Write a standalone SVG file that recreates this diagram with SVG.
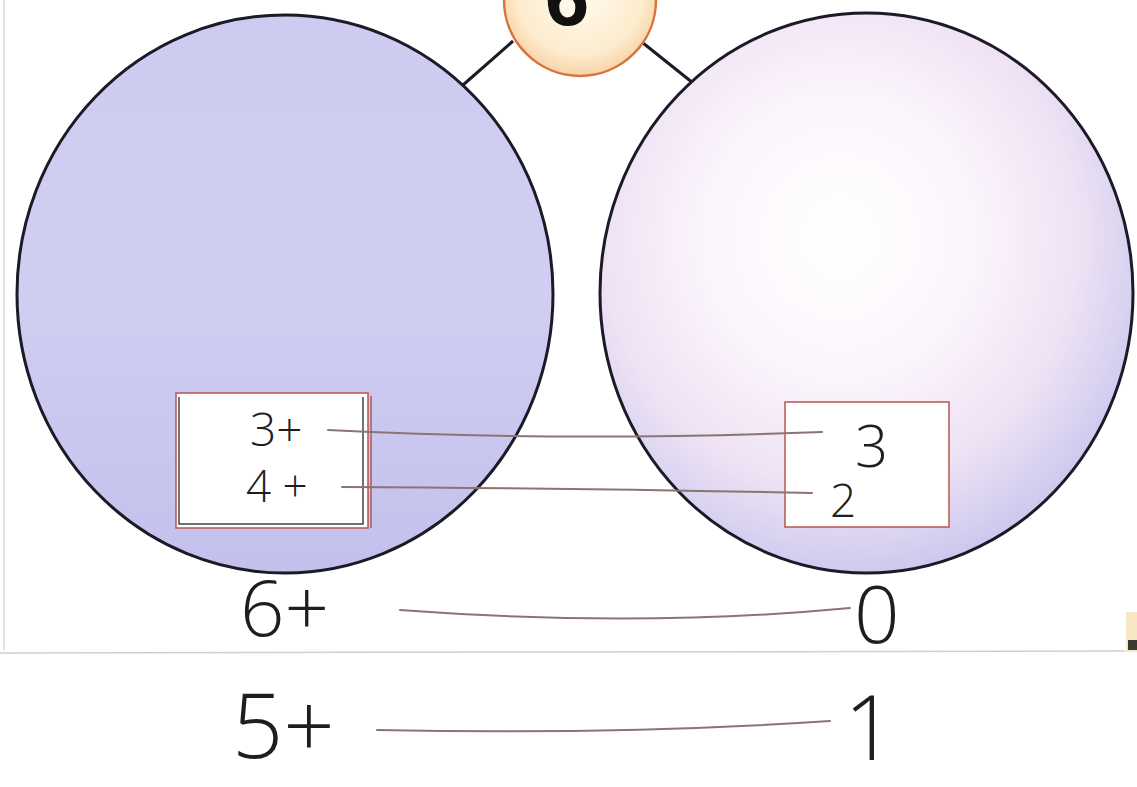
<svg xmlns="http://www.w3.org/2000/svg" width="1137" height="787" viewBox="0 0 1137 787">
<style>
.big{stroke:#1c1a26;stroke-width:3}
.hand{font-family:"Open Sans","Liberation Sans",sans-serif;font-weight:300;fill:#1e1e1e}
.pen{fill:none;stroke:#8c7470;stroke-width:2;stroke-linecap:round}
.bar{fill:none;stroke:#1c1a26;stroke-width:3}
.card{fill:#ffffff;stroke:#b4574e;stroke-width:1.5}
.cardin{fill:none;stroke:#444;stroke-width:1.5}
</style>
<defs>
<radialGradient id="gTop" cx="0.5" cy="0.45" r="0.55">
<stop offset="0" stop-color="#fffbf2"/>
<stop offset="0.75" stop-color="#fdeccd"/>
<stop offset="1" stop-color="#f8d3a8"/>
</radialGradient>
<linearGradient id="gLeft" x1="0" y1="0" x2="0" y2="1">
<stop offset="0" stop-color="#cdcbf0"/>
<stop offset="0.5" stop-color="#d0cef2"/>
<stop offset="1" stop-color="#c3c0ec"/>
</linearGradient>
<radialGradient id="gRight" cx="0.45" cy="0.4" r="0.62">
<stop offset="0" stop-color="#ffffff"/>
<stop offset="0.4" stop-color="#fcf5fc"/>
<stop offset="0.72" stop-color="#eee2f4"/>
<stop offset="1" stop-color="#cac7ee"/>
</radialGradient>
</defs>
<rect width="1137" height="787" fill="#ffffff"/>
<line x1="4" y1="0" x2="4" y2="650" stroke="#d8d8d8" stroke-width="1.5"/>
<line x1="0" y1="653" x2="1125" y2="651" stroke="#cfcfcf" stroke-width="1.5"/>
<rect x="1126" y="612" width="11" height="40" fill="#f6e6c4"/>
<rect x="1128" y="640" width="9" height="10" fill="#3a3a30"/>

<g id="bars">
<line class="bar" x1="463" y1="85" x2="513" y2="41"/>
<line class="bar" x1="643" y1="43" x2="693" y2="83"/>
</g>

<g id="node-top">
<circle cx="580" cy="0" r="76" fill="url(#gTop)" stroke="#d8743e" stroke-width="2.5"/>
<text x="567" y="25" text-anchor="middle" font-family="Liberation Sans,Arial,sans-serif" font-weight="bold" font-size="80" fill="#111">6</text>
</g>

<g id="node-left">
<ellipse class="big" cx="285" cy="294" rx="268" ry="279" fill="url(#gLeft)"/>
</g>

<g id="node-right">
<ellipse class="big" cx="866.5" cy="293" rx="266.5" ry="280" fill="url(#gRight)"/>
</g>

<g id="box-left">
<rect class="card" x="176" y="393" width="192" height="135"/>
<path class="cardin" d="M179 397 V524 H363 V397"/>
<line x1="371" y1="396" x2="371" y2="528" stroke="#b4574e" stroke-width="1.5"/>
<text class="hand" x="250" y="446" font-size="46">3+</text>
<text class="hand" x="246" y="502" font-size="44">4 +</text>
</g>

<g id="box-right">
<rect class="card" x="785" y="402" width="164" height="125"/>
<text class="hand" x="855" y="467" font-size="58">3</text>
<text class="hand" x="830" y="517" font-size="46">2</text>
</g>

<g id="labels-bottom">
<text class="hand" x="240" y="636" font-size="78">6+</text>
<text class="hand" x="854" y="643" font-size="80">0</text>
<text class="hand" x="232" y="758" font-size="90">5+</text>
<text class="hand" x="844" y="760" font-size="90">1</text>
</g>

<g id="connectors">
<path class="pen" d="M328 430 Q560 442 822 432"/>
<path class="pen" d="M342 487 Q560 488 812 493"/>
<path class="pen" d="M400 610 Q640 628 850 608"/>
<path class="pen" d="M377 730 Q620 735 830 721"/>
</g>
</svg>
